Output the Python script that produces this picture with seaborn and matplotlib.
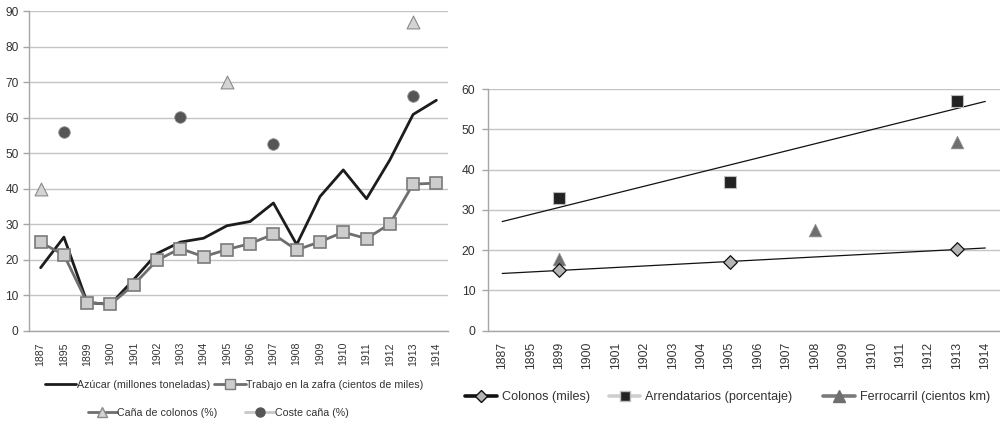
import numpy as np
import pandas as pd
import matplotlib
matplotlib.use("Agg")
import matplotlib.pyplot as plt
from matplotlib.lines import Line2D
import seaborn as sns

# ---------------- data ----------------
years = ["1887", "1895", "1899", "1900", "1901", "1902", "1903", "1904", "1905",
         "1906", "1907", "1908", "1909", "1910", "1911", "1912", "1913", "1914"]

azucar = [17.8, 26.4, 8.0, 7.5, 14.5, 21.8, 25.0, 26.1, 29.6,
          30.8, 36.0, 24.3, 37.8, 45.3, 37.2, 48.1, 60.9, 64.9]
trabajo = [24.9, 21.4, 8.0, 7.5, 13.0, 19.9, 23.2, 20.9, 22.9,
           24.6, 27.2, 22.8, 25.1, 27.8, 26.0, 30.1, 41.3, 41.6]
cana_years = ["1887", "1905", "1913"]
cana_colonos = [40.0, 70.0, 87.0]
coste_years = ["1895", "1903", "1907", "1913"]
coste_cana = [56.0, 60.3, 52.5, 66.0]

colonos_years = ["1899", "1905", "1913"]
colonos = [15.0, 17.1, 20.2]
arrend_years = ["1899", "1905", "1913"]
arrendatarios = [33.0, 37.0, 57.0]
ferro_years = ["1899", "1908", "1913"]
ferrocarril = [17.8, 25.0, 46.8]

left_labels = ["Azúcar (millones toneladas)", "Trabajo en la zafra (cientos de miles)",
               "Caña de colonos (%)", "Coste caña (%)"]
right_labels = ["Colonos (miles)", "Arrendatarios (porcentaje)", "Ferrocarril (cientos km)"]

# ---------------- style ----------------
sns.set_theme(style="white")
plt.rcParams["font.family"] = ["Liberation Sans", "DejaVu Sans"]
TXT = "#333333"
GRID = "#c4c4c4"
SPINE = "#a6a6a6"

pos = {y: i for i, y in enumerate(years)}

def idx(lst):
    return [pos[y] for y in lst]

fig = plt.figure(figsize=(10, 4.21), dpi=100)
axL = fig.add_axes([0.029, 0.2138, 0.419, 0.760])
axR = fig.add_axes([0.488, 0.2147, 0.5115, 0.5733])


def style_axis(ax, ymax, ystep, ylab_size, xlab_size, ypad):
    n = len(years)
    ax.set_xlim(-0.5, n - 0.5)
    ax.set_ylim(0, ymax)
    ax.set_yticks(np.arange(0, ymax + 0.1, ystep))
    ax.yaxis.grid(True, color=GRID, linewidth=1.0)
    ax.xaxis.grid(False)
    ax.set_axisbelow(True)
    for s in ["top", "right"]:
        ax.spines[s].set_visible(False)
    for s in ["left", "bottom"]:
        ax.spines[s].set_color(SPINE)
        ax.spines[s].set_linewidth(1.0)
    ax.set_xticks(range(n))
    ax.set_xticklabels(years, rotation=90, fontsize=xlab_size, color=TXT)
    ax.set_xticks(np.arange(-0.5, n, 1.0), minor=True)
    ax.tick_params(axis="x", which="major", length=0, pad=8)
    ax.tick_params(axis="x", which="minor", length=3, color=SPINE, width=1.0, direction="out")
    ax.tick_params(axis="y", length=4, color=SPINE, width=1.0, labelsize=ylab_size,
                   labelcolor=TXT, pad=ypad, left=True)
    ax.set_xlabel("")
    ax.set_ylabel("")


# ---------------- left chart ----------------
dfL = pd.DataFrame({"x": range(len(years)), "azucar": azucar, "trabajo": trabajo})
sns.lineplot(data=dfL, x="x", y="azucar", ax=axL, color="#1c1c1c", linewidth=2.0, zorder=3)
sns.lineplot(data=dfL, x="x", y="trabajo", ax=axL, color="#6e6e6e", linewidth=2.0,
             marker="s", markersize=8.5, markerfacecolor="#cdcdcd",
             markeredgecolor="#7a7a7a", markeredgewidth=1.2, zorder=4)
sns.scatterplot(x=idx(cana_years), y=cana_colonos, ax=axL, marker="^", s=85,
                color="#d4d4d4", edgecolor="#8a8a8a", linewidth=0.8, zorder=5)
sns.scatterplot(x=idx(coste_years), y=coste_cana, ax=axL, marker="o", s=70,
                color="#555555", edgecolor="#9a9a9a", linewidth=0.6, zorder=5)
style_axis(axL, 90, 10, 8.6, 7.6, 3.5)

hL = [
    Line2D([], [], color="#1c1c1c", linewidth=2.0),
    Line2D([], [], color="#6e6e6e", linewidth=2.0, marker="s", markersize=7.5,
           markerfacecolor="#cdcdcd", markeredgecolor="#7a7a7a"),
    Line2D([], [], color="#6e6e6e", linewidth=2.0, marker="^", markersize=7.5,
           markerfacecolor="#d4d4d4", markeredgecolor="#8a8a8a"),
    Line2D([], [], color="#c8c8c8", linewidth=2.0, marker="o", markersize=6.5,
           markerfacecolor="#555555", markeredgecolor="#555555"),
]
legL1 = fig.legend(hL[:2], left_labels[:2], loc="center left", bbox_to_anchor=(0.045, 0.0855),
                   ncol=2, frameon=False, fontsize=7.7, handlelength=2.9, borderpad=0,
                   borderaxespad=0, handletextpad=0.05, columnspacing=0.45, labelcolor=TXT)
legL2 = fig.legend(hL[2:], left_labels[2:], loc="center left", bbox_to_anchor=(0.088, 0.019),
                   ncol=2, frameon=False, fontsize=7.7, handlelength=2.7, borderpad=0,
                   borderaxespad=0, handletextpad=0.05, columnspacing=2.6, labelcolor=TXT)

# ---------------- right chart ----------------
dfC = pd.DataFrame({"x": idx(colonos_years), "y": colonos})
dfA = pd.DataFrame({"x": idx(arrend_years), "y": arrendatarios})
dfF = pd.DataFrame({"x": idx(ferro_years), "y": ferrocarril})

xs = np.arange(len(years))
for df in (dfA, dfC):
    k, b = np.polyfit(df["x"], df["y"], 1)
    sns.lineplot(x=xs, y=k * xs + b, ax=axR, color="#111111", linewidth=0.9, zorder=3)

sns.scatterplot(data=dfA, x="x", y="y", ax=axR, marker="s", s=75, color="#222222",
                edgecolor="#bdbdbd", linewidth=0.8, zorder=5)
sns.scatterplot(data=dfF, x="x", y="y", ax=axR, marker="^", s=85, color="#6f6f6f",
                edgecolor="#9a9a9a", linewidth=0.5, zorder=5)
sns.scatterplot(data=dfC, x="x", y="y", ax=axR, marker="D", s=48, color="#b4b4b4",
                edgecolor="#111111", linewidth=0.9, zorder=6)
style_axis(axR, 60, 10, 8.8, 8.7, 5)

hR = [
    Line2D([], [], color="#111111", linewidth=2.6, marker="D", markersize=6.5,
           markerfacecolor="#b4b4b4", markeredgecolor="#111111"),
    Line2D([], [], color="#cfcfcf", linewidth=2.6, marker="s", markersize=7,
           markerfacecolor="#222222", markeredgecolor="#bdbdbd"),
    Line2D([], [], color="#7a7a7a", linewidth=2.6, marker="^", markersize=8,
           markerfacecolor="#6f6f6f", markeredgecolor="#6f6f6f"),
]
legR1 = fig.legend(hR[:2], right_labels[:2], loc="center left", bbox_to_anchor=(0.465, 0.057),
                   ncol=2, frameon=False, fontsize=9.1, handlelength=2.5, borderpad=0,
                   borderaxespad=0, handletextpad=0.4, columnspacing=1.5, labelcolor=TXT)
legR2 = fig.legend(hR[2:], right_labels[2:], loc="center left", bbox_to_anchor=(0.823, 0.057),
                   ncol=1, frameon=False, fontsize=9.1, handlelength=2.5, borderpad=0,
                   borderaxespad=0, handletextpad=0.4, labelcolor=TXT)

fig.savefig("out.png", dpi=100)
